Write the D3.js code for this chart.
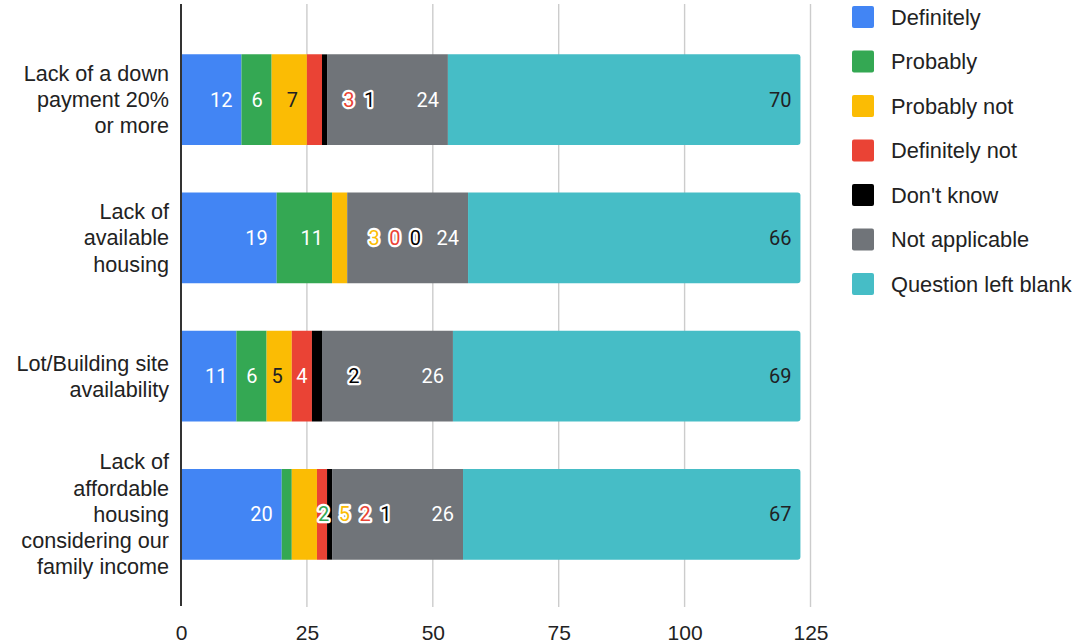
<!DOCTYPE html>
<html>
<head>
<meta charset="utf-8">
<script src="https://cdn.jsdelivr.net/npm/d3@7"></script>
<style>
  html, body { margin: 0; padding: 0; background: #fff; }
  svg { display: block; }
</style>
</head>
<body>
<svg id="chart" width="1082" height="644"></svg>
<script>
// Survey: reasons that keep families from building or buying a home
const categories = [
  ["Lack of a down", "payment 20%", "or more"],
  ["Lack of", "available", "housing"],
  ["Lot/Building site", "availability"],
  ["Lack of", "affordable", "housing", "considering our", "family income"]
];

const seriesNames = ["Definitely", "Probably", "Probably not", "Definitely not",
                     "Don't know", "Not applicable", "Question left blank"];
const seriesColors = ["#4285f4", "#34a853", "#fbbc04", "#ea4335",
                      "#000000", "#707479", "#46bdc6"];
const labelColors = ["#ffffff", "#ffffff", "#202124", "#ffffff",
                     "#ffffff", "#ffffff", "#202124"];

const definitely    = [12, 19, 11, 20];
const probably      = [6, 11, 6, 2];
const probablyNot   = [7, 3, 5, 5];
const definitelyNot = [3, 0, 4, 2];
const dontKnow      = [1, 0, 2, 1];
const notApplicable = [24, 24, 26, 26];
const leftBlank     = [70, 66, 69, 67];

const xTicks = [0, 25, 50, 75, 100, 125];

const seriesValues = [definitely, probably, probablyNot, definitelyNot,
                      dontKnow, notApplicable, leftBlank];

// rows for d3.stack
const rows = categories.map((c, i) => {
  const r = { idx: i };
  seriesNames.forEach((s, j) => r[s] = seriesValues[j][i]);
  return r;
});

const svg = d3.select("#chart");
const axisFont = "'Liberation Sans', Arial, sans-serif";
const labelFont = "Roboto, 'Liberation Sans', Arial, sans-serif";

const x = d3.scaleLinear().domain([0, 125]).range([181, 810.5]);
const y = d3.scaleBand()
  .domain(categories.map((c, i) => i))
  .range([7, 607])
  .paddingInner(0.344)
  .paddingOuter(0.3425);

// vertical gridlines
svg.append("g").selectAll("line")
  .data(xTicks.filter(t => t > 0))
  .join("line")
  .attr("x1", d => x(d)).attr("x2", d => x(d))
  .attr("y1", 4).attr("y2", 607)
  .attr("stroke", "#cccccc").attr("stroke-width", 1.4);

// x-axis tick labels
const xAxis = svg.append("g")
  .attr("transform", "translate(0,607)")
  .call(d3.axisBottom(x).tickValues(xTicks).tickSize(0).tickPadding(0));
xAxis.select(".domain").remove();
xAxis.selectAll("text")
  .attr("y", 33)
  .attr("dy", 0)
  .attr("font-family", axisFont)
  .attr("font-size", 21)
  .attr("fill", "#222");

// stacked bars
const stacked = d3.stack().keys(seriesNames)(rows);
const bh = y.bandwidth();

const barG = svg.append("g");
stacked.forEach((layer, j) => {
  const last = j === stacked.length - 1;
  barG.append("g").selectAll("path")
    .data(layer)
    .join("path")
    .attr("fill", seriesColors[j])
    .attr("d", d => {
      const x0 = x(d[0]), x1 = x(d[1]), y0 = y(d.data.idx), y1 = y0 + bh;
      if (x1 - x0 <= 0) return null;
      if (!last) return `M${x0},${y0}H${x1}V${y1}H${x0}Z`;
      const r = 3;
      return `M${x0},${y0}H${x1 - r}Q${x1},${y0} ${x1},${y0 + r}` +
             `V${y1 - r}Q${x1},${y1} ${x1 - r},${y1}H${x0}Z`;
    });
});

// axis line on the left
svg.append("line")
  .attr("x1", x(0)).attr("x2", x(0))
  .attr("y1", 4).attr("y2", 606)
  .attr("stroke", "#333").attr("stroke-width", 2);

// value labels: inside each segment, or in a row of haloed labels when the segment is too thin
const labelG = svg.append("g")
  .attr("font-family", labelFont)
  .attr("font-size", 20);

rows.forEach((row, i) => {
  const cy = y(i) + bh / 2;
  let overflowStart = null;
  let overflowCount = 0;
  let prevOverflow = false;
  stacked.forEach((layer, j) => {
    const d = layer[i];
    const v = d[1] - d[0];
    const x0 = x(d[0]), x1 = x(d[1]);
    const w = x1 - x0;
    const overflow = w < 18 || (prevOverflow && w < 30);
    if (overflow) {
      if (overflowStart === null) overflowStart = x0;
      const cx = overflowStart + 42 + overflowCount * 20.7;
      overflowCount++;
      labelG.append("text")
        .attr("x", cx).attr("y", cy)
        .attr("text-anchor", "middle")
        .attr("dominant-baseline", "central")
        .attr("fill", seriesColors[j])
        .attr("stroke", "#fff")
        .attr("stroke-width", 4.5)
        .attr("stroke-linejoin", "round")
        .attr("paint-order", "stroke")
        .text(v);
    } else {
      const t = labelG.append("text")
        .attr("x", x1 - 9).attr("y", cy)
        .attr("text-anchor", "end")
        .attr("dominant-baseline", "central")
        .attr("fill", labelColors[j])
        .text(v);
      const tw = t.node().getComputedTextLength();
      if (x1 - 9 - tw < x0 + 3) {
        t.attr("x", (x0 + x1) / 2).attr("text-anchor", "middle");
      }
    }
    prevOverflow = overflow;
  });
});

// category labels
const catG = svg.append("g")
  .attr("font-family", axisFont)
  .attr("font-size", 21.6)
  .attr("fill", "#222");
categories.forEach((lines, i) => {
  const cy = y(i) + bh / 2;
  const n = lines.length;
  lines.forEach((ln, k) => {
    catG.append("text")
      .attr("x", 169)
      .attr("y", cy + (k - (n - 1) / 2) * 26.2)
      .attr("text-anchor", "end")
      .attr("dominant-baseline", "central")
      .text(ln);
  });
});

// legend
const legend = svg.append("g")
  .attr("font-family", axisFont)
  .attr("font-size", 21.8)
  .attr("fill", "#222");
seriesNames.forEach((s, j) => {
  const cy = 17 + j * 44.5;
  legend.append("rect")
    .attr("x", 852).attr("y", cy - 11)
    .attr("width", 22).attr("height", 22)
    .attr("rx", 2)
    .attr("fill", seriesColors[j]);
  legend.append("text")
    .attr("x", 891).attr("y", cy)
    .attr("dominant-baseline", "central")
    .text(s);
});
</script>
</body>
</html>
